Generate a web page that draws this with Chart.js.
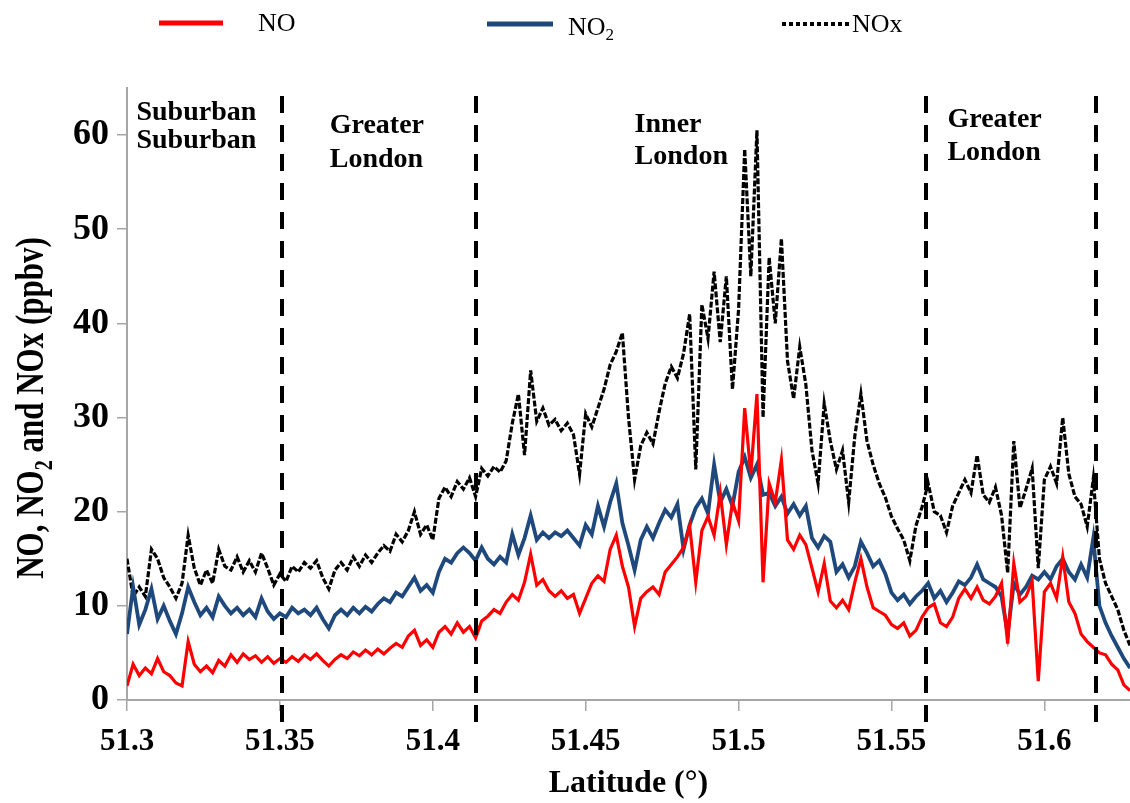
<!DOCTYPE html>
<html>
<head>
<meta charset="utf-8">
<script src="https://cdn.jsdelivr.net/npm/chart.js@4.4.1/dist/chart.umd.min.js"></script>
<style>
html,body{margin:0;padding:0;background:#ffffff;}
#wrap{width:1130px;height:803px;position:relative;}
</style>
</head>
<body>
<div id="wrap"><canvas id="c" width="1130" height="803"></canvas></div>
<script>
// ---------------- data ----------------
const latitude = [
51.300,51.302,51.304,51.306,51.308,51.310,51.312,51.314,51.316,51.318,
51.320,51.322,51.324,51.326,51.328,51.330,51.332,51.334,51.336,51.338,
51.340,51.342,51.344,51.346,51.348,51.350,51.352,51.354,51.356,51.358,
51.360,51.362,51.364,51.366,51.368,51.370,51.372,51.374,51.376,51.378,
51.380,51.382,51.384,51.386,51.388,51.390,51.392,51.394,51.396,51.398,
51.400,51.402,51.404,51.406,51.408,51.410,51.412,51.414,51.416,51.418,
51.420,51.422,51.424,51.426,51.428,51.430,51.432,51.434,51.436,51.438,
51.440,51.442,51.444,51.446,51.448,51.450,51.452,51.454,51.456,51.458,
51.460,51.462,51.464,51.466,51.468,51.470,51.472,51.474,51.476,51.478,
51.480,51.482,51.484,51.486,51.488,51.490,51.492,51.494,51.496,51.498,
51.500,51.502,51.504,51.506,51.508,51.510,51.512,51.514,51.516,51.518,
51.520,51.522,51.524,51.526,51.528,51.530,51.532,51.534,51.536,51.538,
51.540,51.542,51.544,51.546,51.548,51.550,51.552,51.554,51.556,51.558,
51.560,51.562,51.564,51.566,51.568,51.570,51.572,51.574,51.576,51.578,
51.580,51.582,51.584,51.586,51.588,51.590,51.592,51.594,51.596,51.598,
51.600,51.602,51.604,51.606,51.608,51.610,51.612,51.614,51.616,51.618,
51.620,51.622,51.624,51.626,51.628
];
const noValues = [
1.5,3.8,2.6,3.4,2.8,4.4,3.0,2.6,1.8,1.5,
6.2,3.8,3.0,3.6,2.9,4.2,3.6,4.8,4.0,4.9,
4.3,4.7,4.0,4.6,3.9,4.4,4.0,4.6,4.1,4.8,
4.3,4.9,4.2,3.6,4.3,4.8,4.4,5.1,4.7,5.3,
4.8,5.4,4.9,5.5,6.0,5.6,6.8,7.4,5.8,6.4,
5.6,7.2,7.8,7.0,8.2,7.2,7.8,6.6,8.4,8.9,
9.6,9.2,10.4,11.2,10.6,12.5,15.5,12.2,12.8,11.6,
11.0,11.6,10.8,11.2,9.2,10.8,12.4,13.2,12.6,16.0,
17.5,14.2,12.0,7.8,10.8,11.5,12.0,11.2,13.6,14.4,
15.2,16.2,18.5,12.5,18.0,19.5,17.5,22.0,16.5,21.0,
19.0,31.0,24.0,32.5,12.5,23.0,21.0,25.5,17.0,16.0,
17.5,16.5,14.0,11.5,14.5,10.5,9.8,10.6,9.6,12.5,
15.0,12.0,9.8,9.4,9.0,8.0,7.6,8.2,6.8,7.4,
8.8,9.8,10.2,8.2,7.8,8.8,10.8,11.8,10.8,12.0,
10.6,10.2,11.0,12.4,6.0,14.5,10.4,11.0,12.6,2.0,
11.5,12.4,10.8,15.2,10.4,9.2,7.0,6.2,5.6,5.0,
4.8,3.8,3.2,1.6,1.0
];
const no2Values = [
7.0,12.0,8.0,9.6,11.8,8.6,10.0,8.4,7.0,9.2,
12.0,10.4,9.0,9.8,8.8,11.0,10.0,9.2,9.8,9.0,
9.6,8.8,10.8,9.4,8.6,9.2,8.8,9.8,9.2,9.6,
9.0,9.8,8.6,7.6,9.0,9.6,9.0,9.8,9.2,9.9,
9.4,10.2,10.8,10.4,11.4,11.0,12.0,13.0,11.6,12.2,
11.4,13.6,15.0,14.6,15.6,16.2,15.6,14.8,16.2,15.0,
14.4,15.2,14.6,17.6,15.4,17.2,19.6,17.0,17.8,17.2,
17.8,17.4,18.0,17.2,16.4,18.6,17.6,20.6,18.4,21.0,
23.0,18.8,16.4,13.8,17.0,18.4,17.2,18.8,20.2,19.4,
20.8,16.0,18.6,20.4,21.4,19.8,25.0,21.0,22.4,20.6,
24.2,25.8,23.6,25.0,21.8,22.0,20.6,21.6,19.8,20.8,
19.6,20.6,17.2,16.2,17.4,16.8,13.6,14.4,13.0,14.2,
16.8,15.6,14.2,14.8,13.4,11.4,10.6,11.2,10.2,11.0,
11.6,12.4,10.8,11.6,10.4,11.4,12.6,12.2,13.0,14.4,
12.8,12.4,12.0,11.0,7.0,12.4,11.2,12.0,13.2,12.8,
13.6,12.8,14.2,15.0,13.6,12.8,14.4,13.0,17.2,10.0,
8.2,6.8,5.6,4.4,3.4
];
const noxValues = [
15.0,11.0,12.0,11.0,16.0,15.0,13.0,12.0,10.8,12.4,
17.5,14.0,12.2,13.8,12.4,16.0,14.2,13.8,15.2,13.6,
14.8,13.6,15.6,14.0,12.2,13.4,12.6,14.2,13.6,14.6,
14.0,14.8,13.0,11.8,13.8,14.6,13.8,15.2,14.2,15.4,
14.6,15.6,16.4,15.8,17.6,16.8,18.0,20.0,17.6,18.6,
17.0,21.4,22.6,21.6,23.2,22.4,23.6,21.6,24.6,23.8,
24.8,24.2,25.4,29.4,32.5,26.0,35.0,29.6,31.0,29.2,
29.8,28.6,29.4,28.2,24.0,30.4,29.0,31.0,33.0,35.6,
37.0,39.0,30.0,23.4,27.0,28.4,27.2,30.6,33.6,35.4,
34.2,36.8,41.0,24.5,42.0,38.4,45.5,38.0,45.0,33.0,
41.5,58.5,45.0,60.5,30.0,47.0,40.0,49.0,36.0,32.0,
37.5,33.5,26.5,23.0,31.5,27.5,24.5,26.5,21.0,28.0,
32.5,27.5,25.0,23.0,21.5,19.5,18.2,17.0,14.8,18.5,
20.5,23.0,20.0,19.6,17.8,20.6,22.0,23.4,22.0,26.0,
21.8,21.0,22.6,19.6,13.5,27.5,20.4,22.4,24.6,14.0,
23.4,24.8,23.0,30.0,24.0,21.6,20.8,18.4,23.5,15.0,
12.4,11.0,9.6,7.4,5.8
];
const xTickValues = [51.3, 51.35, 51.4, 51.45, 51.5, 51.55, 51.6];
const yTickValues = [0, 10, 20, 30, 40, 50, 60];
const zoneBoundaries = [51.3507, 51.4141, 51.5614, 51.6169];
const zoneNames = [['Suburban','Suburban'], ['Greater','London'], ['Inner','London'], ['Greater','London']];
const seriesNames = ['NO', 'NO2', 'NOx'];

// ---------------- drawing ----------------
const SERIF = '"Liberation Serif", "Times New Roman", serif';
Chart.defaults.font.family = SERIF;
Chart.defaults.color = '#000';

const toPoints = vals => latitude.map((lat, i) => ({x: lat, y: vals[i]}));

const overlay = {
  id: 'overlay',
  afterDatasetsDraw(chart, args, opts) {
    const {ctx, chartArea: ca, scales: {x}} = chart;
    ctx.save();
    ctx.strokeStyle = '#000';
    ctx.lineWidth = 4;
    ctx.setLineDash([17, 12]);
    zoneBoundaries.forEach(b => {
      const px = Math.round(x.getPixelForValue(b));
      ctx.beginPath();
      ctx.moveTo(px, ca.top + 8);
      ctx.lineTo(px, ca.bottom + 29);
      ctx.stroke();
    });
    ctx.restore();
    ctx.save();
    ctx.fillStyle = '#000';
    ctx.font = 'bold 28px ' + SERIF;
    ctx.textAlign = 'left';
    ctx.textBaseline = 'alphabetic';
    opts.zoneAnchors.forEach((a, i) => {
      const px = x.getPixelForValue(a.lat);
      zoneNames[i].forEach((t, j) => ctx.fillText(t, px, a.base[j]));
    });
    ctx.restore();
  },
  afterDraw(chart, args, opts) {
    const {ctx} = chart;
    ctx.save();
    const L = opts.legend;
    ctx.lineCap = 'butt';
    ctx.strokeStyle = '#ff0000'; ctx.lineWidth = 5;
    ctx.beginPath(); ctx.moveTo(L[0].x0, L[0].ly); ctx.lineTo(L[0].x1, L[0].ly); ctx.stroke();
    ctx.strokeStyle = '#1f497d';
    ctx.beginPath(); ctx.moveTo(L[1].x0, L[1].ly); ctx.lineTo(L[1].x1, L[1].ly); ctx.stroke();
    ctx.strokeStyle = '#000'; ctx.lineWidth = 4; ctx.setLineDash([4, 3]);
    ctx.beginPath(); ctx.moveTo(L[2].x0, L[2].ly); ctx.lineTo(L[2].x1, L[2].ly); ctx.stroke();
    ctx.setLineDash([]);
    ctx.fillStyle = '#000';
    ctx.textBaseline = 'alphabetic';
    ctx.textAlign = 'left';
    ctx.font = '26px ' + SERIF;
    ctx.fillText('NO', L[0].tx, L[0].ty);
    ctx.fillText('NO', L[1].tx, L[1].ty);
    const w = ctx.measureText('NO').width;
    ctx.font = '17px ' + SERIF;
    ctx.fillText('2', L[1].tx + w, L[1].ty + 5);
    ctx.font = '26px ' + SERIF;
    ctx.fillText('NOx', L[2].tx, L[2].ty);

    const T = opts.yTitle;
    ctx.translate(T.x, T.y);
    ctx.rotate(-Math.PI / 2);
    ctx.scale(1, T.stretch);
    const big = 'bold ' + T.size + 'px ' + SERIF;
    const small = 'bold ' + Math.round(T.size * 0.65) + 'px ' + SERIF;
    const parts = [
      {t: 'NO, NO', f: big, dy: 0},
      {t: '2', f: small, dy: T.size * 0.22},
      {t: ' and NOx (ppbv)', f: big, dy: 0}
    ];
    let total = 0;
    parts.forEach(p => { ctx.font = p.f; p.w = ctx.measureText(p.t).width; total += p.w; });
    let cx = -total / 2;
    parts.forEach(p => { ctx.font = p.f; ctx.fillText(p.t, cx, p.dy); cx += p.w; });
    ctx.restore();
  }
};

const axisGrey = '#a6a6a6';

new Chart(document.getElementById('c').getContext('2d'), {
  type: 'line',
  data: {
    datasets: [
      {label: seriesNames[0], data: toPoints(noValues), borderColor: '#ff0000', borderWidth: 3.2,
       pointRadius: 0, tension: 0, fill: false, order: 0},
      {label: seriesNames[1], data: toPoints(no2Values), borderColor: '#1f497d', borderWidth: 3.8,
       pointRadius: 0, tension: 0, fill: false, order: 1},
      {label: seriesNames[2], data: toPoints(noxValues), borderColor: '#000000', borderWidth: 3.2,
       borderDash: [6, 2], pointRadius: 0, tension: 0, fill: false, order: 2}
    ]
  },
  options: {
    responsive: false,
    animation: false,
    events: [],
    layout: {padding: {top: 88, left: 0, right: 0, bottom: 0}},
    plugins: {
      legend: {display: false},
      tooltip: {enabled: false},
      overlay: {
        zoneAnchors: [
          {lat: 51.3031, base: [120, 148]},
          {lat: 51.3663, base: [133, 167]},
          {lat: 51.4660, base: [132, 164]},
          {lat: 51.5683, base: [127, 160]}
        ],
        legend: [
          {x0: 159, x1: 223, ly: 23, tx: 258, ty: 31},
          {x0: 487, x1: 553, ly: 24, tx: 568, ty: 35},
          {x0: 782, x1: 849, ly: 24, tx: 852, ty: 32}
        ],
        yTitle: {x: 43, y: 408, size: 31, stretch: 1.28}
      }
    },
    scales: {
      x: {
        type: 'linear',
        min: 51.3,
        max: 51.628,
        afterBuildTicks: s => { s.ticks = xTickValues.map(v => ({value: v})); },
        afterFit: s => { s.height = 103; },
        ticks: {
          font: {size: 31, weight: 'bold'}, color: '#000', padding: 12,
          maxRotation: 0, autoSkip: false, callback: v => String(v)
        },
        grid: {display: true, drawOnChartArea: false, drawTicks: true, tickLength: 11, color: axisGrey, lineWidth: 1.5},
        border: {display: true, color: axisGrey, width: 2},
        title: {display: true, text: 'Latitude (°)', font: {size: 32, weight: 'bold'}, color: '#000', padding: {top: 0, bottom: 0}}
      },
      y: {
        type: 'linear',
        min: 0,
        max: 65,
        afterBuildTicks: s => { s.ticks = yTickValues.map(v => ({value: v})); },
        afterFit: s => { s.width = 127; },
        ticks: {font: {size: 36, weight: 'bold'}, color: '#000', padding: 8, callback: v => String(v)},
        grid: {display: true, drawOnChartArea: false, drawTicks: true, tickLength: 10, color: axisGrey, lineWidth: 1.5},
        border: {display: true, color: axisGrey, width: 2}
      }
    }
  },
  plugins: [overlay]
});
</script>
</body>
</html>
